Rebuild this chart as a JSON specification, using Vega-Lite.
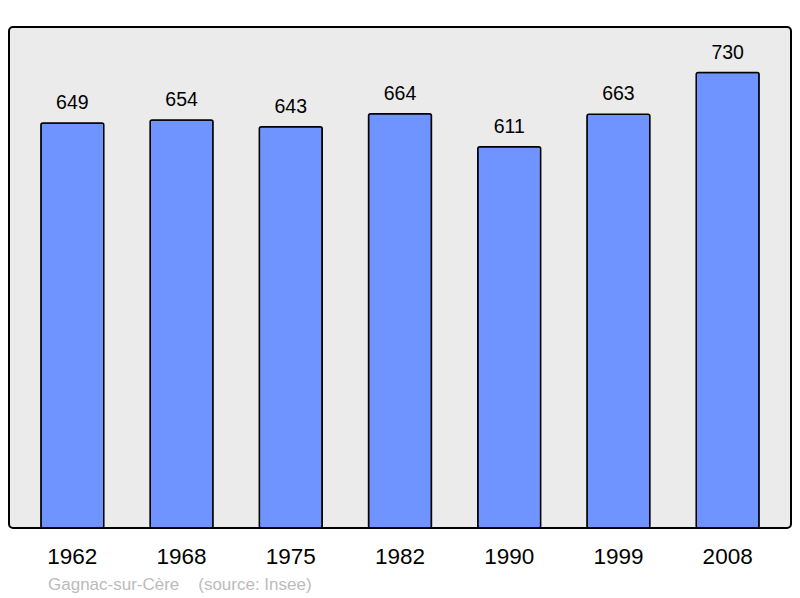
{
  "$schema": "https://vega.github.io/schema/vega-lite/v6.json",
  "autosize": {"type": "none"},
  "width": 782,
  "height": 501,
  "padding": {"left": 9, "top": 27, "right": 9, "bottom": 70},
  "background": "white",
  "config": {
    "font": "Liberation Sans",
    "view": {"fill": "#ebebeb", "stroke": "#000000", "strokeWidth": 2, "cornerRadius": 4}
  },
  "title": {
    "text": "Gagnac-sur-Cère\u00a0\u00a0\u00a0\u00a0(source: Insee)",
    "orient": "bottom",
    "anchor": "start",
    "frame": "group",
    "dx": 39,
    "offset": 9,
    "fontSize": 17,
    "fontWeight": "normal",
    "color": "#bbbbbb",
    "font": "Liberation Sans"
  },
  "data": {
    "values": [
      {"year": "1962", "pop": 649},
      {"year": "1968", "pop": 654},
      {"year": "1975", "pop": 643},
      {"year": "1982", "pop": 664},
      {"year": "1990", "pop": 611},
      {"year": "1999", "pop": 663},
      {"year": "2008", "pop": 730}
    ]
  },
  "encoding": {
    "x": {
      "field": "year",
      "type": "ordinal",
      "scale": {"paddingInner": 0.424, "paddingOuter": 0.292},
      "axis": {"title": null, "domain": false, "ticks": false, "labelAngle": 0, "labelFontSize": 22.5, "labelColor": "#000000", "labelPadding": 17}
    },
    "y": {
      "field": "pop",
      "type": "quantitative",
      "scale": {"domain": [0, 803], "nice": false},
      "axis": null
    }
  },
  "layer": [
    {
      "mark": {"type": "bar", "fill": "#7094ff", "stroke": "#000000", "strokeWidth": 1.5, "cornerRadius": 2}
    },
    {
      "mark": {"type": "text", "baseline": "alphabetic", "dy": -14, "fontSize": 19.5, "color": "#000000"},
      "encoding": {"text": {"field": "pop", "type": "quantitative"}}
    }
  ]
}
